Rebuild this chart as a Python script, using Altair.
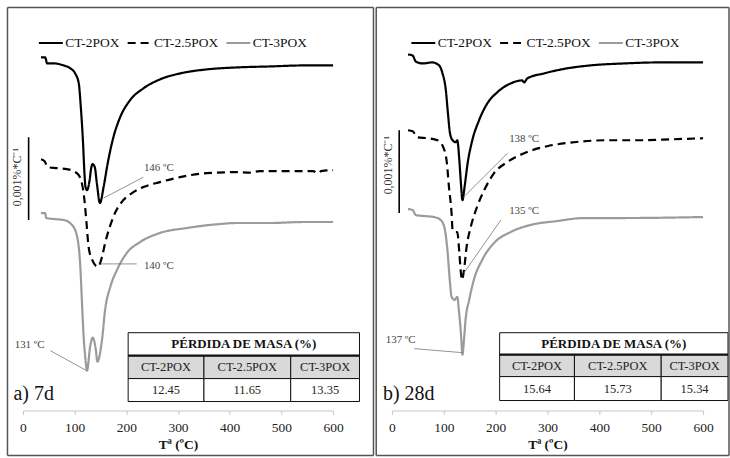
import altair as alt
import pandas as pd

SERIES = ["CT-2POX", "CT-2.5POX", "CT-3POX"]
COLORS = ["#000000", "#000000", "#9b9b9b"]
DASHES = [[1, 0], [8, 5], [1, 0]]

# ---------- panel a) 7 days : temperature (ºC) and DTG signal (arbitrary offset units)
a_2_T = [35, 43, 47, 60, 79, 92, 101, 108, 112, 116, 119, 121, 124, 129, 132, 135, 139, 143, 149, 156, 164, 175, 188, 207, 233, 265, 304, 355, 413, 478, 542, 600]
a_2_v = [354, 354, 348, 348, 346, 343, 338, 328, 304, 271, 238, 224, 221, 231, 243, 247, 244, 228, 208, 224, 248, 274, 294, 311, 323, 332, 338, 342, 344, 345, 346, 346]
a_25_T = [35, 42, 48, 66, 85, 98, 108, 114, 119, 123, 127, 134, 145, 153, 159, 168, 179, 191, 211, 233, 265, 304, 355, 413, 439, 458, 510, 561, 571, 577, 600]
a_25_v = [252, 250, 244, 243, 242, 240, 236, 228, 211, 188, 164, 151, 144, 154, 168, 184, 199, 209, 218, 224, 229, 234, 238, 239, 238.5, 240, 240, 240, 238, 240, 241]
a_3_T = [35, 43, 45, 60, 79, 95, 105, 111, 114, 117, 121, 124, 130, 135, 141, 144, 153, 159, 169, 182, 201, 227, 265, 317, 381, 413, 478, 542, 600]
a_3_v = [198, 198, 193, 192, 191, 186, 174, 144, 111, 78, 51, 40, 64, 73, 61, 49, 71, 101, 124, 141, 158, 169, 178, 183, 187, 188, 188, 189, 189]

# ---------- panel b) 28 days
b_2_T = [31, 40, 46, 59, 78, 91, 97, 104, 108, 112, 117, 123, 126, 130, 133, 136, 140, 146, 155, 168, 184, 203, 229, 251, 255, 261, 293, 337, 382, 447, 511, 600]
b_2_v = [357, 356, 350, 348, 349, 346, 339, 321, 298, 278, 271, 269, 271, 251, 228, 211, 224, 248, 271, 291, 308, 319, 328, 331, 329, 333, 338, 343, 346, 348, 349, 349]
b_25_T = [31, 40, 49, 69, 88, 99, 106, 110, 115, 117, 123, 126, 130, 133, 135, 139, 144, 152, 164, 178, 197, 222, 255, 299, 351, 415, 479, 543, 600]
b_25_v = [281, 280, 274, 273, 271, 264, 248, 224, 198, 181, 179, 179, 158, 138, 131, 141, 164, 184, 204, 221, 238, 249, 258, 265, 269, 271, 271, 272, 273]
b_3_T = [31, 40, 46, 62, 81, 94, 101, 107, 112, 115, 121, 126, 129, 133, 136, 139, 142, 149, 158, 174, 197, 229, 267, 319, 370, 447, 600]
b_3_v = [202, 201, 196, 195, 194, 191, 184, 161, 128, 114, 111, 114, 101, 78, 56, 71, 91, 111, 131, 151, 168, 179, 186, 190, 193, 193, 194]

# peak annotations: label, text position (T, v), leader from (T, v) to (T, v)
a_ann_label = ["146 ºC", "140 ºC", "131 ºC"]
a_ann_tT = [234, 234, -16]
a_ann_tv = [243, 145, 66]
a_ann_x1 = [156, 150, 53]
a_ann_y1 = [213, 147, 60]
a_ann_x2 = [233, 220, 123]
a_ann_y2 = [234, 147, 40]

b_ann_label = ["138 ºC", "135 ºC", "137 ºC"]
b_ann_tT = [226, 226, -12]
b_ann_tv = [272, 200, 71]
b_ann_x1 = [223, 210, 43]
b_ann_y1 = [258, 191, 62]
b_ann_x2 = [138, 139, 136]
b_ann_y2 = [214, 138, 58]

# scale bar (0,001 %/ºC) : T, v from, v to, label position
a_bar = dict(T=11, v1=274, v2=191, lT=-10.5, lv=234)
b_bar = dict(T=14, v1=281, v2=198, lT=-8, lv=246)

# mass loss table
TABLE_TITLE = "PÉRDIDA DE MASA (%)"
LOSS_7D = ["12.45", "11.65", "13.35"]
LOSS_28D = ["15.64", "15.73", "15.34"]

XTICKS = [0, 100, 200, 300, 400, 500, 600]
SERIF = "'Times New Roman', 'Liberation Serif', Times, serif"
ONE = pd.DataFrame({"k": [0]})


def curves_df(T_lists, v_lists):
    rows = []
    for s, Ts, vs in zip(SERIES, T_lists, v_lists):
        for t, v in zip(Ts, vs):
            rows.append({"T": t, "v": v, "series": s})
    return pd.DataFrame(rows)


def panel(df, ann, bar, label, loss, geo):
    W, H = 311 if geo["name"] == "a" else 312, 381
    xs = alt.Scale(domain=[0, 600])
    ys = alt.Scale(domain=[0, 381])
    legend = alt.Legend(orient="none", legendX=geo["legx"], legendY=-1, direction="horizontal",
                        title=None, symbolType="stroke", symbolSize=576, symbolStrokeWidth=2.2,
                        labelFont=SERIF, labelFontSize=13.5, labelColor="#111", columnPadding=3,
                        labelOffset=1, padding=0)
    lines = alt.Chart(df).mark_line(interpolate="monotone", strokeWidth=2.2).encode(
        x=alt.X("T:Q", scale=xs, axis=alt.Axis(
            values=XTICKS, grid=False, domainColor="#c6c6c6", tickColor="#c6c6c6", tickSize=4,
            labelFont=SERIF, labelFontSize=13.5, labelColor="#222", labelPadding=6, labelFlush=False,
            title="Tª (ºC)", titleFont=SERIF, titleFontSize=13.5, titleFontWeight="bold",
            titleColor="#111", titlePadding=4)),
        y=alt.Y("v:Q", scale=ys, axis=None),
        color=alt.Color("series:N", scale=alt.Scale(domain=SERIES, range=COLORS), legend=legend),
        strokeDash=alt.StrokeDash("series:N", scale=alt.Scale(domain=SERIES, range=DASHES), legend=legend),
        order=alt.Order("T:Q"),
    )
    ann_df = pd.DataFrame({"label": ann[0], "tT": ann[1], "tv": ann[2],
                           "x1": ann[3], "y1": ann[4], "x2": ann[5], "y2": ann[6]})
    leaders = alt.Chart(ann_df).mark_rule(color="#777", strokeWidth=0.8).encode(
        x=alt.X("x1:Q", scale=xs), y=alt.Y("y1:Q", scale=ys), x2="x2:Q", y2="y2:Q")
    ann_text = alt.Chart(ann_df).mark_text(align="left", baseline="middle", font=SERIF,
                                           fontSize=11, color="#444").encode(
        x=alt.X("tT:Q", scale=xs), y=alt.Y("tv:Q", scale=ys), text="label:N")
    bar_df = pd.DataFrame([bar])
    bar_rule = alt.Chart(bar_df).mark_rule(color="#000", strokeWidth=1.6).encode(
        x=alt.X("T:Q", scale=xs), y=alt.Y("v1:Q", scale=ys), y2="v2:Q")
    bar_text = alt.Chart(bar_df).mark_text(angle=270, align="center", baseline="middle",
                                           font=SERIF, fontSize=12, color="#333").encode(
        x=alt.X("lT:Q", scale=xs), y=alt.Y("lv:Q", scale=ys), text=alt.value("0,001%*C⁻¹"))
    # table
    xe, ye = geo["tx"], geo["ty"]
    cells = [{"x0": xe[0], "x1": xe[3], "y0": ye[0], "y1": ye[1], "fill": "#ffffff"}]
    for i in range(3):
        cells.append({"x0": xe[i], "x1": xe[i + 1], "y0": ye[1], "y1": ye[2], "fill": "#d9d9d9"})
        cells.append({"x0": xe[i], "x1": xe[i + 1], "y0": ye[2], "y1": ye[3], "fill": "#ffffff"})
    cells_df = pd.DataFrame(cells)
    rects = alt.Chart(cells_df).mark_rect(stroke="#111", strokeWidth=1).encode(
        x=alt.X("x0:Q", scale=None), x2="x1:Q", y=alt.Y("y0:Q", scale=None), y2="y1:Q",
        fill=alt.Fill("fill:N", scale=None))
    txt_rows = []
    for i in range(3):
        xc = (xe[i] + xe[i + 1]) / 2
        txt_rows.append({"xc": xc, "yc": (ye[1] + ye[2]) / 2, "t": SERIES[i]})
        txt_rows.append({"xc": xc, "yc": (ye[2] + ye[3]) / 2, "t": loss[i]})
    cell_text = alt.Chart(pd.DataFrame(txt_rows)).mark_text(
        font=SERIF, fontSize=12.5, color="#222", baseline="middle", align="center").encode(
        x=alt.X("xc:Q", scale=None), y=alt.Y("yc:Q", scale=None), text="t:N")
    title_text = alt.Chart(ONE).mark_text(
        font=SERIF, fontSize=13, fontWeight="bold", color="#111", baseline="middle", align="center").encode(
        x=alt.value((xe[0] + xe[3]) / 2), y=alt.value((ye[0] + ye[1]) / 2), text=alt.value(TABLE_TITLE))
    thick = alt.Chart(ONE).mark_rule(color="#111", strokeWidth=2.2).encode(
        x=alt.value(xe[0]), x2=alt.value(xe[3]), y=alt.value(ye[1]))
    plabel = alt.Chart(ONE).mark_text(font=SERIF, fontSize=20, color="#111", align="left",
                                      baseline="alphabetic").encode(
        x=alt.value(geo["plx"]), y=alt.value(370), text=alt.value(label))
    # frame
    fl, fr, ft, fb = geo["frame"]
    fc = "#555"
    frame = [
        alt.Chart(ONE).mark_rule(color=fc, strokeWidth=1.5).encode(x=alt.value(fl), x2=alt.value(fr), y=alt.value(ft)),
        alt.Chart(ONE).mark_rule(color=fc, strokeWidth=1.5).encode(x=alt.value(fl), x2=alt.value(fr), y=alt.value(fb)),
        alt.Chart(ONE).mark_rule(color=fc, strokeWidth=1.5).encode(x=alt.value(fl), y=alt.value(ft), y2=alt.value(fb)),
        alt.Chart(ONE).mark_rule(color=fc, strokeWidth=1.5).encode(x=alt.value(fr), y=alt.value(ft), y2=alt.value(fb)),
    ]
    return alt.layer(lines, leaders, ann_text, bar_rule, bar_text, rects, thick, cell_text,
                     title_text, plabel, *frame).properties(width=W, height=H)


geo_a = dict(name="a", legx=14.5, tx=[105.5, 181.5, 268.5, 337.5], ty=[303, 326, 349, 372],
             plx=-9.5, frame=[-15.5, 351.5, -23, 426])
geo_b = dict(name="b", legx=18, tx=[108, 183, 270, 337], ty=[303, 325, 347, 371],
             plx=-9, frame=[-15.75, 338, -23, 426])

left = panel(curves_df([a_2_T, a_25_T, a_3_T], [a_2_v, a_25_v, a_3_v]),
             [a_ann_label, a_ann_tT, a_ann_tv, a_ann_x1, a_ann_y1, a_ann_x2, a_ann_y2],
             a_bar, "a) 7d", LOSS_7D, geo_a)
right = panel(curves_df([b_2_T, b_25_T, b_3_T], [b_2_v, b_25_v, b_3_v]),
              [b_ann_label, b_ann_tT, b_ann_tv, b_ann_x1, b_ann_y1, b_ann_x2, b_ann_y2],
              b_bar, "b) 28d", LOSS_28D, geo_b)

chart = alt.hconcat(left, right, spacing=0).resolve_scale(
    x="independent", y="independent", color="independent", strokeDash="independent"
).resolve_legend(color="independent", strokeDash="independent").properties(
    padding={"left": 6, "top": 6, "right": 0, "bottom": 0}, background="white"
).configure_view(strokeWidth=0)

chart.save("out.html", embed_options={"renderer": "svg", "actions": False})
